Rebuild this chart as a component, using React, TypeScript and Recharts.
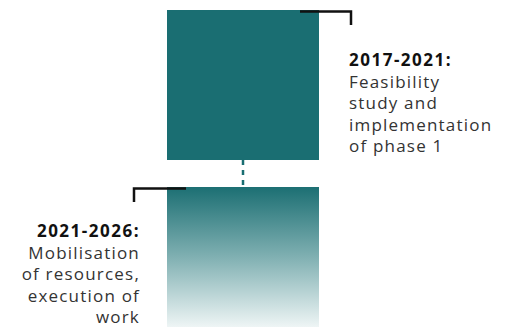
import { BarChart, Bar, XAxis, YAxis } from "recharts";

// two project phases, drawn top to bottom as stacked blocks
const stages = ["2017-2021", "2021-2026"];
const blockSizes = [150, 140];
const gapSize = 27;
const titles = ["2017-2021:", "2021-2026:"];
const descriptions = [
  ["Feasibility", "study and", "implementation", "of phase 1"],
  ["Mobilisation", "of resources,", "execution of", "work"],
];

const data = [{ name: "timeline", phase1: blockSizes[0], link: gapSize, phase2: blockSizes[1] }];

const TEAL = "#1a6e72";
const INK = "#111";
const FONT = "'Open Sans', sans-serif";

// the reversed axis hands over negative heights, so flip them back
function box(props: any) {
  const { x, y, width, height } = props;
  return { x, top: Math.min(y, y + height), width, h: Math.abs(height) };
}

function Label({ x, y, anchor, idx }: { x: number; y: number; anchor: "start" | "end"; idx: number }) {
  return (
    <text x={x} y={y} textAnchor={anchor} fontFamily={FONT} fontSize={17}>
      <tspan x={x} fontWeight={700} fill={INK} letterSpacing={1.5}>
        {titles[idx]}
      </tspan>
      {descriptions[idx].map((line, i) => (
        <tspan key={i} x={x} dy={21.5} fill="#333" letterSpacing={1.2}>
          {line}
        </tspan>
      ))}
    </text>
  );
}

function TopBlock(props: any) {
  const { x, top, width, h } = box(props);
  const right = x + width;
  return (
    <g>
      <rect x={x} y={top} width={width} height={h} fill={TEAL} />
      <path
        d={`M${right - 19},${top + 1.5} H${right + 32} V${top + 15}`}
        fill="none"
        stroke={INK}
        strokeWidth={2.5}
      />
      <Label x={right + 30} y={top + 56} anchor="start" idx={0} />
    </g>
  );
}

function Link(props: any) {
  const { x, top, width, h } = box(props);
  const cx = x + width / 2;
  return <line x1={cx} x2={cx} y1={top} y2={top + h + 4} stroke={TEAL} strokeWidth={2.5} strokeDasharray="5 5" />;
}

function BottomBlock(props: any) {
  const { x, top, width, h } = box(props);
  return (
    <g>
      <defs>
        <linearGradient id="fade" x1="0" y1="0" x2="0" y2="1">
          <stop offset="0%" stopColor="#1c6f73" />
          <stop offset="50%" stopColor="#80b0b2" />
          <stop offset="100%" stopColor="#eef5f5" />
        </linearGradient>
      </defs>
      <rect x={x} y={top} width={width} height={h} fill="url(#fade)" />
      <path d={`M${x + 19},${top + 1.5} H${x - 33} V${top + 15}`} fill="none" stroke={INK} strokeWidth={2.5} />
      <Label x={x - 27} y={top + 50} anchor="end" idx={1} />
    </g>
  );
}

export default function App() {
  return (
    <div style={{ position: "absolute", left: 0, top: 0, width: 506, height: 327, background: "#fff" }}>
      <BarChart width={506} height={327} data={data} margin={{ top: 10, right: 20, bottom: 0, left: 0 }}>
        <XAxis dataKey="name" hide />
        <YAxis hide reversed domain={[0, 317]} />
        <Bar dataKey="phase1" name={stages[0]} stackId="t" barSize={152} shape={TopBlock} isAnimationActive={false} />
        <Bar dataKey="link" stackId="t" barSize={152} shape={Link} isAnimationActive={false} />
        <Bar dataKey="phase2" name={stages[1]} stackId="t" barSize={152} shape={BottomBlock} isAnimationActive={false} />
      </BarChart>
    </div>
  );
}
